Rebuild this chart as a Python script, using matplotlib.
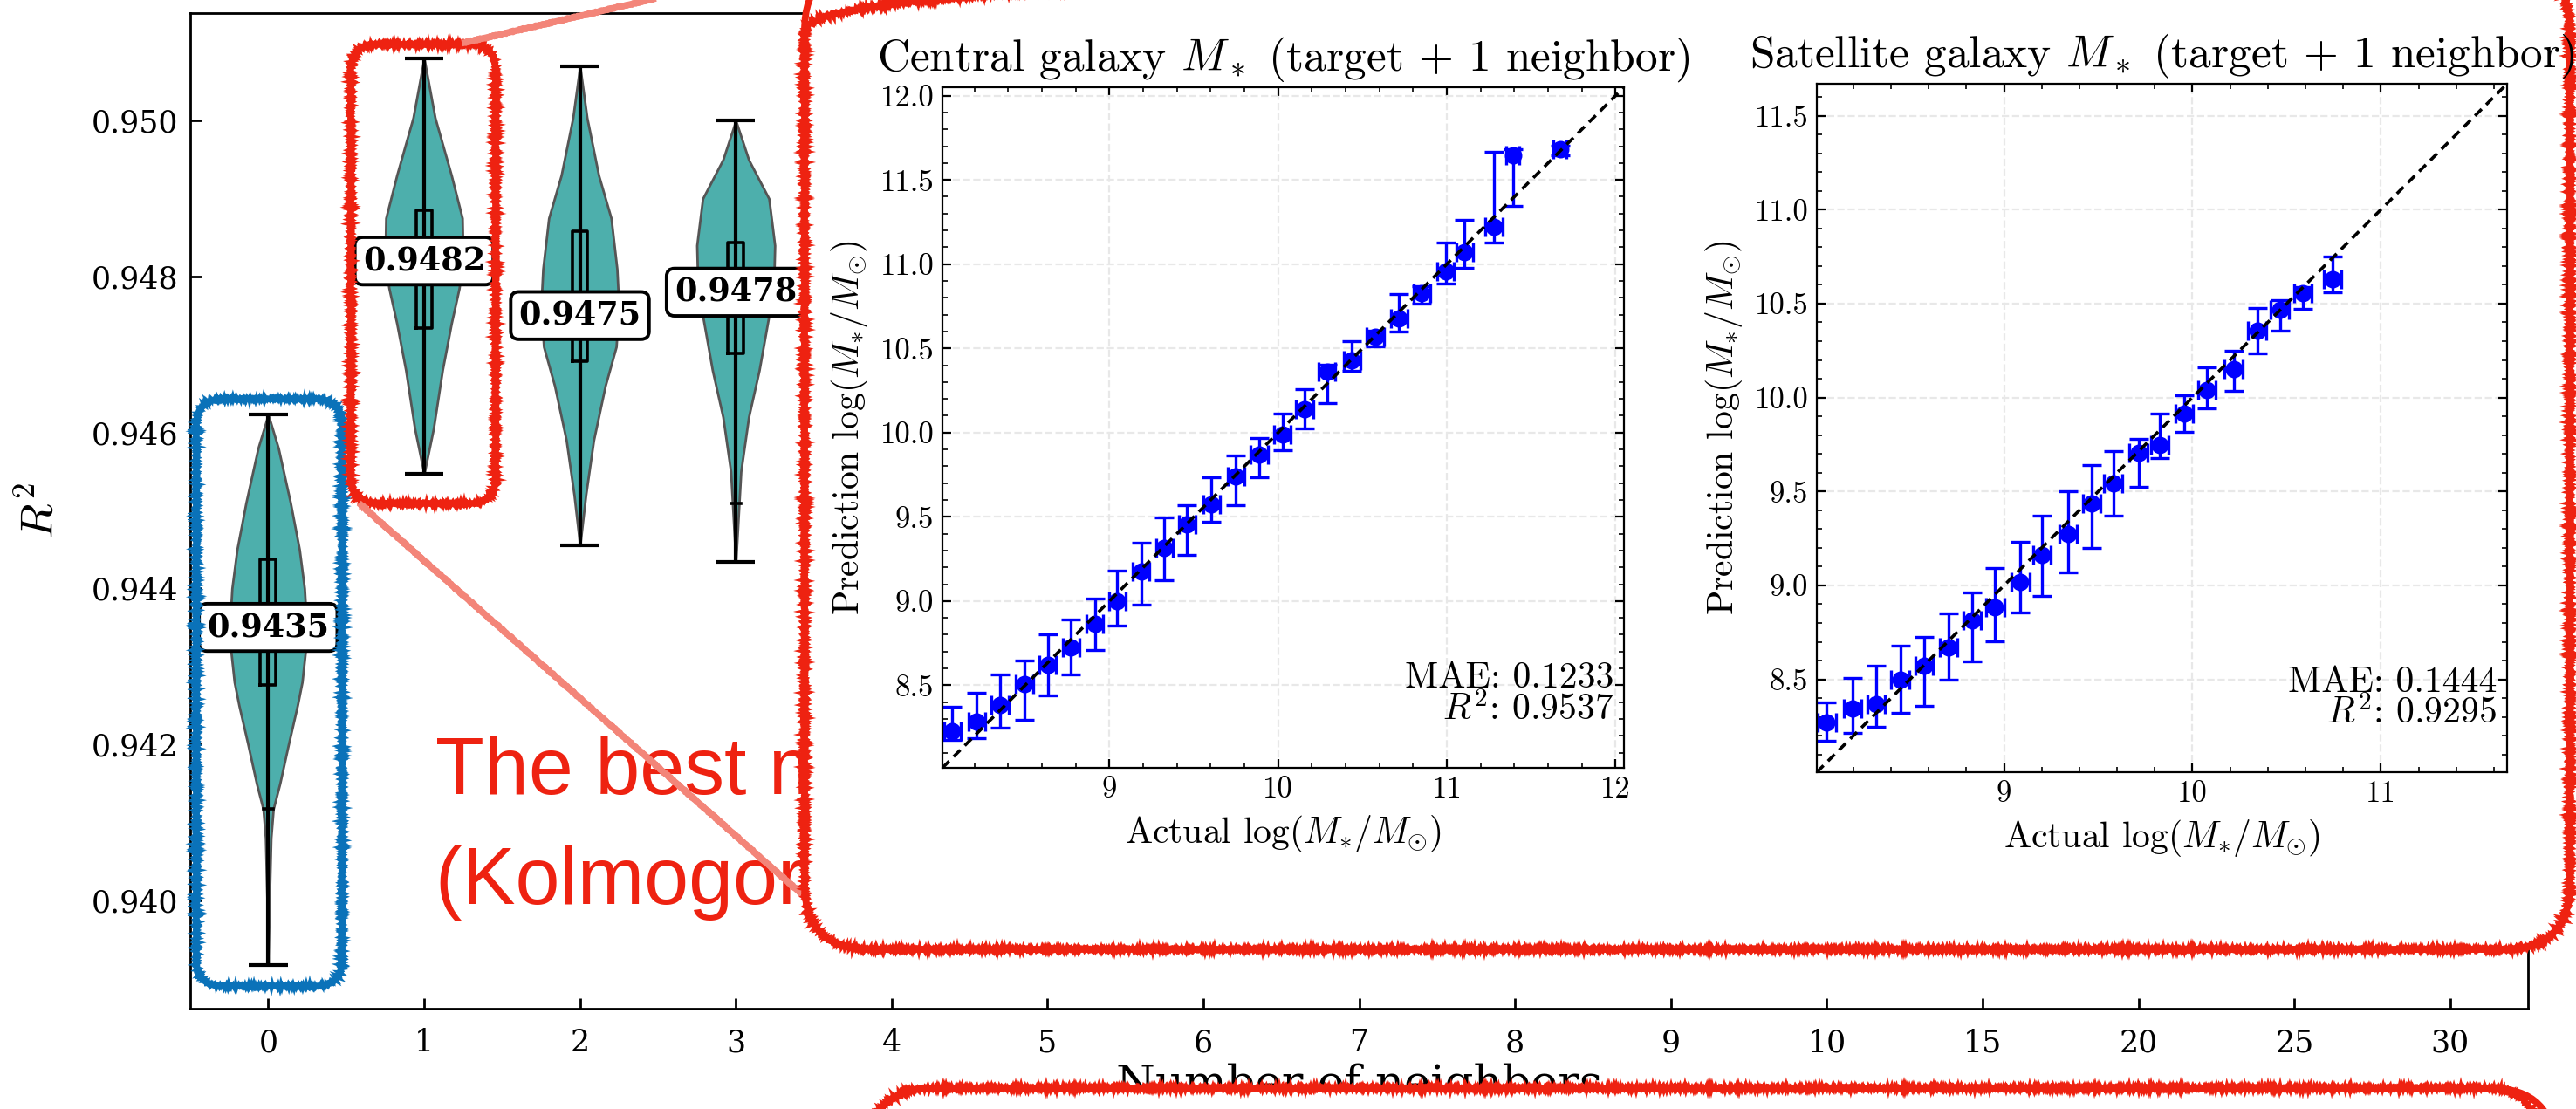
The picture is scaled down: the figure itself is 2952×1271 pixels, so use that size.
import matplotlib
matplotlib.use('Agg')
import matplotlib.pyplot as plt
import numpy as np
from matplotlib.patches import FancyBboxPatch
from matplotlib.lines import Line2D
from matplotlib.transforms import IdentityTransform
from matplotlib.ticker import MultipleLocator, AutoMinorLocator

plt.rcParams['font.family'] = 'serif'
plt.rcParams['font.serif'] = ['DejaVu Serif']
plt.rcParams['mathtext.fontset'] = 'cm'

W, H, DPI = 2952, 1271, 200

# ---------------- main panel: R^2 vs number of neighbours ----------------
neighbor_labels = ['0', '1', '2', '3', '4', '5', '6', '7', '8', '9', '10', '15', '20', '25', '30']
violin_pos = [0, 1, 2, 3]
r2_label = [0.9435, 0.9482, 0.9475, 0.9478]
r2_min = [0.93917, 0.94547, 0.94455, 0.94434]
r2_max = [0.94623, 0.9508, 0.9507, 0.9500]
r2_q1 = [0.94276, 0.94734, 0.94691, 0.94701]
r2_q3 = [0.94437, 0.94885, 0.94858, 0.94844]
r2_whislo = [0.94117, 0.94547, 0.94455, 0.94509]
r2_whishi = [0.94623, 0.9508, 0.9507, 0.9500]

# density profiles (R^2 value, relative half width)
dens_r2_0 = [0.93917, 0.9400, 0.9408, 0.94117, 0.9415, 0.9420, 0.9425, 0.9428, 0.9434, 0.9440, 0.9445, 0.9451, 0.9458, 0.94623]
dens_w_0 = [0.0, 0.03, 0.07, 0.13, 0.30, 0.52, 0.75, 0.87, 1.0, 0.93, 0.80, 0.57, 0.26, 0.0]
dens_r2_1 = [0.94547, 0.94605, 0.9468, 0.9474, 0.94785, 0.9482, 0.94875, 0.9493, 0.95004, 0.9508]
dens_w_1 = [0.0, 0.24, 0.47, 0.70, 0.90, 1.0, 0.98, 0.70, 0.28, 0.0]
dens_r2_2 = [0.94455, 0.9452, 0.9459, 0.9466, 0.9471, 0.9476, 0.9481, 0.94875, 0.9493, 0.95004, 0.9507]
dens_w_2 = [0.0, 0.15, 0.35, 0.65, 0.93, 1.0, 0.95, 0.80, 0.48, 0.18, 0.0]
dens_r2_3 = [0.94434, 0.9455, 0.9462, 0.9468, 0.9475, 0.9480, 0.9484, 0.9490, 0.9495, 0.9500]
dens_w_3 = [0.0, 0.13, 0.33, 0.60, 0.85, 0.98, 1.0, 0.85, 0.33, 0.0]

# ---------------- inset panels: actual vs predicted stellar mass ----------------
cen_x = [8.069, 8.214, 8.351, 8.496, 8.634, 8.772, 8.913, 9.047, 9.188, 9.326, 9.460, 9.605, 9.750,
         9.888, 10.025, 10.156, 10.290, 10.438, 10.576, 10.717, 10.851, 10.993, 11.105, 11.279, 11.391, 11.670]
cen_y = [8.229, 8.284, 8.381, 8.508, 8.621, 8.726, 8.864, 9.001, 9.175, 9.317, 9.455, 9.574, 9.741,
         9.872, 9.988, 10.140, 10.361, 10.430, 10.568, 10.680, 10.829, 10.956, 11.072, 11.220, 11.648, 11.681]
cen_hi = [8.374, 8.454, 8.563, 8.646, 8.802, 8.893, 9.016, 9.183, 9.346, 9.498, 9.567, 9.734, 9.864,
          9.970, 10.111, 10.256, 10.405, 10.542, 10.604, 10.825, 10.869, 11.126, 11.264, 11.666, 11.681, 11.703]
cen_lo = [8.175, 8.186, 8.247, 8.294, 8.439, 8.566, 8.708, 8.856, 8.980, 9.125, 9.273, 9.473, 9.567,
          9.737, 9.897, 10.024, 10.176, 10.368, 10.510, 10.600, 10.764, 10.887, 10.978, 11.130, 11.347, 11.648]
cen_xerr = [0.05, 0.05, 0.05, 0.05, 0.05, 0.05, 0.05, 0.05, 0.05, 0.05, 0.05, 0.05, 0.05,
            0.05, 0.05, 0.05, 0.05, 0.05, 0.05, 0.05, 0.05, 0.05, 0.05, 0.05, 0.04, 0.04]

sat_x = [8.059, 8.196, 8.321, 8.449, 8.576, 8.704, 8.832, 8.953, 9.087, 9.202, 9.340, 9.464, 9.579,
         9.713, 9.826, 9.956, 10.078, 10.218, 10.343, 10.464, 10.586, 10.745]
sat_y = [8.272, 8.347, 8.370, 8.500, 8.571, 8.669, 8.815, 8.884, 9.020, 9.160, 9.274, 9.434, 9.541,
         9.704, 9.749, 9.915, 10.042, 10.153, 10.355, 10.468, 10.556, 10.628]
sat_hi = [8.376, 8.509, 8.571, 8.679, 8.727, 8.851, 8.962, 9.092, 9.232, 9.369, 9.499, 9.639, 9.714,
          9.779, 9.915, 10.013, 10.159, 10.250, 10.475, 10.517, 10.589, 10.752]
sat_lo = [8.174, 8.217, 8.246, 8.321, 8.360, 8.500, 8.597, 8.701, 8.858, 8.946, 9.069, 9.199, 9.369,
          9.525, 9.678, 9.818, 9.941, 10.036, 10.237, 10.355, 10.472, 10.560]
sat_xerr = [0.047, 0.047, 0.047, 0.047, 0.047, 0.047, 0.047, 0.047, 0.047, 0.047, 0.047, 0.047, 0.047,
            0.047, 0.047, 0.047, 0.047, 0.047, 0.047, 0.047, 0.047, 0.047]

RED = '#EE2211'
BLUE = '#0A72B9'
SALMON = '#F38579'
TEAL = '#4DAFAC'

fig = plt.figure(figsize=(W / DPI, H / DPI), dpi=DPI)
ax = fig.add_axes([0.07385, 0.0905, 0.9076, 0.8977], zorder=0)

vpstats = []
for i, (c, w) in enumerate([(dens_r2_0, dens_w_0), (dens_r2_1, dens_w_1),
                            (dens_r2_2, dens_w_2), (dens_r2_3, dens_w_3)]):
    vpstats.append(dict(coords=np.array(c), vals=np.array(w), mean=r2_label[i],
                        median=r2_label[i], min=r2_min[i], max=r2_max[i]))
parts = ax.violin(vpstats, positions=violin_pos, widths=0.5, showextrema=True)
for b in parts['bodies']:
    b.set_facecolor(TEAL)
    b.set_edgecolor('#555555')
    b.set_linewidth(1.0)
    b.set_alpha(1)
for k in ('cmaxes', 'cmins', 'cbars'):
    parts[k].set_color('k')
    parts[k].set_linewidth(1.5)

bstats = []
for i in range(len(violin_pos)):
    bstats.append(dict(med=r2_label[i], q1=r2_q1[i], q3=r2_q3[i],
                       whislo=r2_whislo[i], whishi=r2_whishi[i]))
ax.bxp(bstats, positions=violin_pos, widths=0.1, showfliers=False, manage_ticks=False,
       capwidths=0.06,
       boxprops=dict(color='k', lw=1.3), whiskerprops=dict(color='k', lw=1.3),
       capprops=dict(color='k', lw=1.3), medianprops=dict(color='k', lw=1.3))

for i, v in enumerate(r2_label):
    ax.text(violin_pos[i], v, f'{v:.4f}', ha='center', va='center', fontsize=13.2,
            fontweight='bold', zorder=5,
            bbox=dict(boxstyle='round,pad=0.25', fc='white', ec='k', lw=1.4))

ax.set_xlim(-0.5, 14.5)
ax.set_ylim(0.93861, 0.95138)
ax.set_xticks(range(len(neighbor_labels)))
ax.set_xticklabels(neighbor_labels)
ax.set_yticks([0.940, 0.942, 0.944, 0.946, 0.948, 0.950])
ax.set_yticklabels(['0.940', '0.942', '0.944', '0.946', '0.948', '0.950'])
ax.tick_params(direction='in', length=4.5, width=1, labelsize=12.5, pad=5)
ax.tick_params(axis='x', pad=8)
for s in ax.spines.values():
    s.set_linewidth(1.0)
ax.set_xlabel('Number of neighbors', fontsize=18.5, labelpad=2)
ax.set_ylabel('$R^2$', fontsize=19, labelpad=12)

# ---------------- annotation layer (figure pixels) ----------------
px = IdentityTransform()


def rough_box(x, y, w, h, radius, color, lw, z, fill='none'):
    # solid core plus a jittered stroke on top for the hand-drawn look
    base = FancyBboxPatch((x, y), w, h, boxstyle=f'round,pad=0,rounding_size={radius}',
                          transform=px, fc=fill, ec=color, lw=lw * 0.7, zorder=z)
    fig.add_artist(base)
    for sc, ln in ((2.2, 1.5), (1.6, 2.5)):
        p = FancyBboxPatch((x, y), w, h, boxstyle=f'round,pad=0,rounding_size={radius}',
                           transform=px, fc='none', ec=color, lw=lw * 0.45, zorder=z + 0.01)
        p.set_sketch_params(sc, ln, 2.0)
        fig.add_artist(p)


def rough_line(xs, ys, color, lw, z):
    fig.add_artist(Line2D(xs, ys, transform=px, color=color, lw=lw * 0.7, zorder=z))
    for sc, ln in ((2.0, 1.5), (1.5, 2.5)):
        ln_ = Line2D(xs, ys, transform=px, color=color, lw=lw * 0.45, zorder=z + 0.01)
        ln_.set_sketch_params(sc, ln, 2.0)
        fig.add_artist(ln_)


def box_px(x0, x1, y0, y1):
    (a, b), (c, d) = ax.transData.transform([(x0, y0), (x1, y1)])
    return a, b, c - a, d - b


fig.text(499 / W, 1 - 910 / H, 'The best model', color=RED, fontsize=33,
         family='Liberation Sans', va='baseline', zorder=0.5)
fig.text(499 / W, 1 - 1036 / H, '(Kolmogorov\u2013Arnold Network)', color=RED, fontsize=33,
         family='Liberation Sans', va='baseline', zorder=0.5)

bx, by, bw, bh = box_px(-0.461, 0.474, 0.93890, 0.94643)
rough_box(bx, by, bw, bh, 30, BLUE, 3.8, 0.7)
rx, ry, rw, rh = box_px(0.530, 1.459, 0.94509, 0.95098)
rough_box(rx, ry, rw, rh, 30, RED, 3.8, 0.7)

rough_line([rx + rw - 35, 930], [ry + rh + 2, H + 43], SALMON, 3.8, 0.8)
rough_line([rx + 12, 960], [ry - 2, H - 1061], SALMON, 3.8, 0.8)

rough_box(922, H - 1088, 2945 - 922, 1088 + 40, 75, RED, 4.0, 1, fill='white')
rough_box(995, -200, 2928 - 995, 200 + H - 1247, 75, RED, 4.0, 3, fill='white')


def draw_panel(rect, x, y, lo, hi, xerr, lims, title, mae, r2):
    a = fig.add_axes(rect, zorder=2)
    yerr = [np.subtract(y, lo), np.subtract(hi, y)]
    a.errorbar(x, y, xerr=xerr, yerr=yerr, fmt='o', color='#0000FF', ms=6.2,
               elinewidth=1.2, capsize=4, capthick=1.2, zorder=2)
    a.plot(lims, lims, color='k', ls=(0, (3, 2)), lw=1.3, zorder=3)
    a.set_xlim(lims)
    a.set_ylim(lims)
    a.xaxis.set_major_locator(MultipleLocator(1))
    a.yaxis.set_major_locator(MultipleLocator(0.5))
    a.xaxis.set_minor_locator(AutoMinorLocator(5))
    a.yaxis.set_minor_locator(AutoMinorLocator(5))
    a.grid(True, which='major', ls='--', color='#e8e8e8', lw=0.8)
    a.set_axisbelow(True)
    a.tick_params(which='both', direction='in', top=True, right=True, labelsize=12.5,
                  labelfontfamily='cmr10')
    a.tick_params(which='major', length=3.5, width=0.8)
    a.tick_params(which='minor', length=2, width=0.6)
    for s in a.spines.values():
        s.set_linewidth(0.8)
    a.set_title(title, fontsize=18.5, family='cmr10', pad=7)
    a.set_xlabel(r'Actual $\log(M_{*}/M_{\odot})$', fontsize=15, family='cmr10')
    a.set_ylabel(r'Prediction $\log(M_{*}/M_{\odot})$', fontsize=15, family='cmr10')
    a.text(0.985, 0.06, f'MAE: {mae}\n$R^2$: {r2}', transform=a.transAxes, ha='right',
           va='bottom', fontsize=15, family='cmr10', linespacing=0.9)
    return a


draw_panel([0.36585, 0.30763, 0.26457, 0.61369], cen_x, cen_y, cen_lo, cen_hi, cen_xerr,
           (8.01, 12.05), r'Central galaxy $M_*$ (target + 1 neighbor)', '0.1233', '0.9537')
draw_panel([0.70528, 0.30370, 0.26796, 0.62077], sat_x, sat_y, sat_lo, sat_hi, sat_xerr,
           (8.006, 11.67), r'Satellite galaxy $M_*$ (target + 1 neighbor)', '0.1444', '0.9295')

fig.savefig('out.png', dpi=DPI, facecolor='white')
